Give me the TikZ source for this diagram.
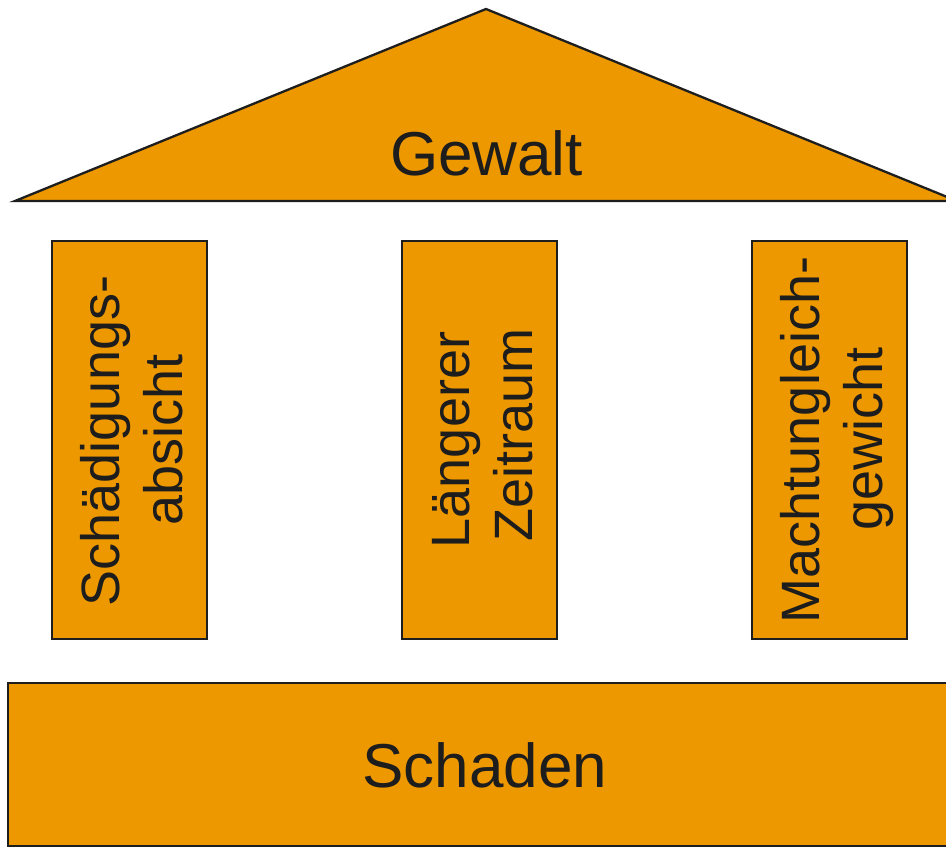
\documentclass[tikz,border=0pt]{standalone}
\usepackage{fontspec}
\setmainfont{Liberation Sans}
\definecolor{housefill}{RGB}{238,152,0}
\definecolor{houseline}{RGB}{30,30,30}
\definecolor{housetext}{RGB}{29,29,29}
\begin{document}
\begin{tikzpicture}[x=1pt,y=-1pt,
  part/.style={fill=housefill,draw=houseline,line width=2.3pt,line join=miter},
  bigtext/.style={text=housetext,inner sep=0pt,anchor=base,font=\fontsize{62}{70}\selectfont},
  pilltext/.style={text=housetext,inner sep=0pt,anchor=base,rotate=90,font=\fontsize{54}{63}\selectfont}]
\clip (0,0) rectangle (946,848);
\fill[white] (0,0) rectangle (946,848);
% roof
\draw[part] (15,201) -- (486,9) -- (957,201) -- cycle;
\node[bigtext] (gewalt) at (486.5,176) {Gewalt};
% pillars
\draw[part] (52,241) rectangle (207,639);
\draw[part] (402,241) rectangle (557,639);
\draw[part] (752,241) rectangle (907,639);
\node[pilltext] (p1a) at (119,441) {Schädigungs-};
\node[pilltext] (p1b) at (182,440) {absicht};
\node[pilltext] (p2a) at (469,440) {Längerer};
\node[pilltext] (p2b) at (532,435) {Zeitraum};
\node[pilltext] (p3a) at (819,440) {Machtungleich-};
\node[pilltext] (p3b) at (882,439) {gewicht};
% base
\draw[part] (8,683) rectangle (960,846);
\node[bigtext] (schaden) at (485,787) {Schaden};
\end{tikzpicture}
\end{document}
